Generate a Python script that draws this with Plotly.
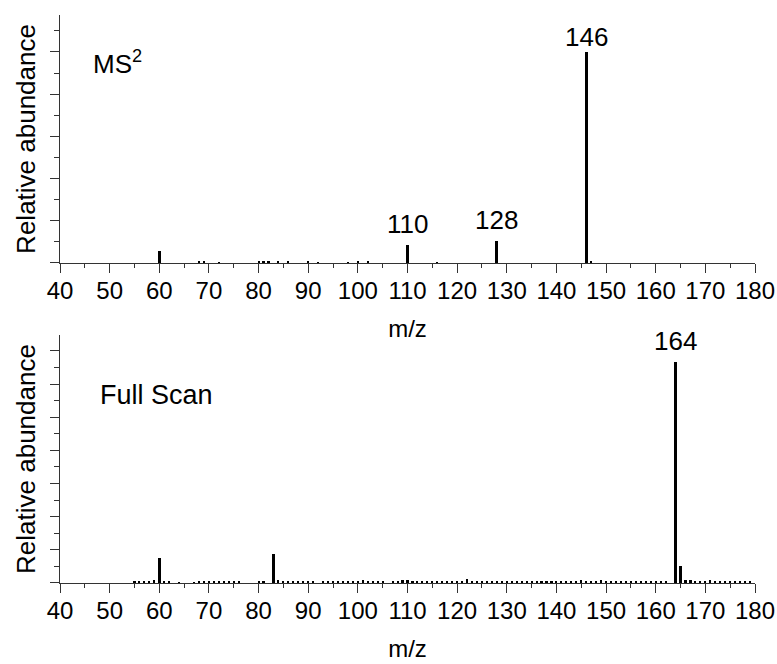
import plotly.graph_objects as go
from plotly.subplots import make_subplots

# MS2 product-ion spectrum (relative abundance, base peak = 100)
ms2_mz = [60, 68, 69, 72, 80, 81, 82, 84, 86, 90, 92, 98, 100, 102, 110, 116, 128, 146, 147]
ms2_ab = [5.7, 1.0, 1.0, 0.4, 1.0, 0.7, 0.7, 0.5, 0.7, 0.7, 0.4, 0.4, 0.6, 0.6, 8.5, 0.4, 10.6, 100, 0.6]

# Full-scan spectrum (relative abundance, base peak = 100)
full_mz = [55, 56, 57, 58, 59, 60, 61, 62, 64, 67, 68, 69, 70, 71, 72, 73, 74, 75, 76,
           80, 81, 83, 84, 85, 86, 87, 88, 89, 90, 91, 93, 94, 95, 96, 97, 98, 99, 100,
           101, 102, 103, 104, 105, 107, 108, 109, 110, 111, 112, 113, 114, 115, 116,
           117, 118, 119, 120, 121, 122, 123, 124, 125, 126, 127, 128, 129, 130, 131,
           132, 133, 134, 135, 136, 137, 138, 139, 140, 141, 142, 143, 144, 145, 146,
           147, 148, 149, 150, 151, 152, 153, 154, 155, 156, 157, 158, 159, 160, 161,
           162, 164, 165, 166, 167, 168, 169, 170, 171, 172, 173, 174, 175, 176, 177,
           178, 179]
full_ab = [0.6, 0.8, 0.9, 0.8, 1.3, 11.3, 1.1, 0.5, 0.4, 0.4, 0.5, 0.5, 0.6, 0.5, 0.6, 0.7, 1.0, 0.6, 0.5,
           0.5, 0.6, 13.3, 1.4, 0.8, 0.6, 0.6, 0.6, 0.6, 0.6, 0.6, 0.6, 0.5, 0.6, 0.6, 0.7, 0.8, 0.9, 0.8,
           1.2, 0.9, 0.7, 0.6, 0.5, 0.6, 0.8, 1.2, 1.4, 0.9, 0.8, 0.8, 0.7, 0.8, 0.7,
           0.6, 0.6, 0.6, 0.8, 0.7, 1.6, 0.9, 0.6, 0.8, 0.8, 1.1, 1.1, 0.8, 0.8, 0.7,
           0.6, 0.6, 0.6, 0.5, 0.9, 0.7, 0.6, 0.9, 0.9, 0.8, 1.0, 0.9, 0.9, 1.2, 0.8,
           0.7, 0.8, 1.3, 0.7, 0.6, 0.7, 0.6, 0.7, 0.6, 0.7, 0.8, 0.6, 0.6, 0.5, 0.5,
           0.5, 100, 7.7, 1.5, 1.5, 0.8, 0.7, 0.6, 1.5, 0.7, 0.6, 0.6, 0.6, 0.8, 0.7,
           0.5, 0.5]

# Labelled peaks
ms2_labels = [110, 128, 146]
full_labels = [164]

x_ticks = list(range(40, 181, 10))

FONT = "Liberation Sans, Arial, sans-serif"

fig = make_subplots(rows=2, cols=1, vertical_spacing=0.127)


def bar_widths(values):
    return [0.62 if v > 3 else 0.42 for v in values]


fig.add_trace(go.Bar(x=ms2_mz, y=ms2_ab, width=bar_widths(ms2_ab),
                     marker=dict(color="black", line=dict(width=0)),
                     showlegend=False, hoverinfo="x+y"), row=1, col=1)
fig.add_trace(go.Bar(x=full_mz, y=full_ab, width=bar_widths(full_ab),
                     marker=dict(color="black", line=dict(width=0)),
                     showlegend=False, hoverinfo="x+y"), row=2, col=1)

xaxis_style = dict(
    range=[40, 180], tickmode="array", tickvals=x_ticks, ticktext=[str(t) for t in x_ticks],
    ticks="outside", ticklen=9, tickwidth=1, tickcolor="#333", ticklabelstandoff=-3,
    minor=dict(dtick=5, tick0=40, ticks="outside", ticklen=4, tickcolor="#333", tickwidth=1),
    showline=True, linecolor="#333", linewidth=1, showgrid=False, zeroline=False,
    automargin=False,
    tickfont=dict(family=FONT, size=24, color="black"),
    title=dict(text="m/z", font=dict(family=FONT, size=24, color="black"), standoff=17),
)
fig.update_xaxes(**xaxis_style, row=1, col=1)
fig.update_xaxes(**xaxis_style, row=2, col=1)

yaxis_common = dict(
    ticks="outside", ticklen=9, tickwidth=1, tickcolor="#333", showticklabels=False,
    showline=True, linecolor="#333", linewidth=1, showgrid=False, zeroline=False,
    automargin=False,
    title=dict(text="Relative abundance", font=dict(family=FONT, size=26, color="black"),
               standoff=6),
)
fig.update_yaxes(**yaxis_common, range=[0, 117.5], dtick=20, tick0=0,
                 minor=dict(dtick=10, ticks="outside", ticklen=5, tickcolor="#333"),
                 row=1, col=1)
fig.update_yaxes(**yaxis_common, range=[0, 112.2], dtick=15, tick0=0,
                 minor=dict(dtick=7.5, ticks="outside", ticklen=5, tickcolor="#333"),
                 row=2, col=1)

# Peak labels above the annotated ions
ms2_lookup = dict(zip(ms2_mz, ms2_ab))
for mz in ms2_labels:
    fig.add_annotation(x=mz, y=ms2_lookup[mz], xref="x", yref="y", text=str(mz),
                       showarrow=False, yanchor="bottom", yshift=4 if mz != 146 else -2,
                       font=dict(family=FONT, size=26, color="black"))
full_lookup = dict(zip(full_mz, full_ab))
for mz in full_labels:
    fig.add_annotation(x=mz, y=full_lookup[mz], xref="x2", yref="y2", text=str(mz),
                       showarrow=False, yanchor="bottom", yshift=4,
                       font=dict(family=FONT, size=26, color="black"))

# Panel captions
fig.add_annotation(x=0.045, y=0.81, xref="x domain", yref="y domain", text="MS<sup>2</sup>",
                   showarrow=False, xanchor="left", yanchor="middle",
                   font=dict(family=FONT, size=26, color="black"))
fig.add_annotation(x=0.055, y=0.758, xref="x2 domain", yref="y2 domain", text="Full Scan",
                   showarrow=False, xanchor="left", yanchor="middle",
                   font=dict(family=FONT, size=27, color="black"))

fig.update_layout(
    width=777, height=664,
    margin=dict(l=60, r=22, t=15, b=81),
    plot_bgcolor="white", paper_bgcolor="white",
    bargap=0, barmode="overlay",
    font=dict(family=FONT, color="black"),
)

fig.write_html("out.html")
